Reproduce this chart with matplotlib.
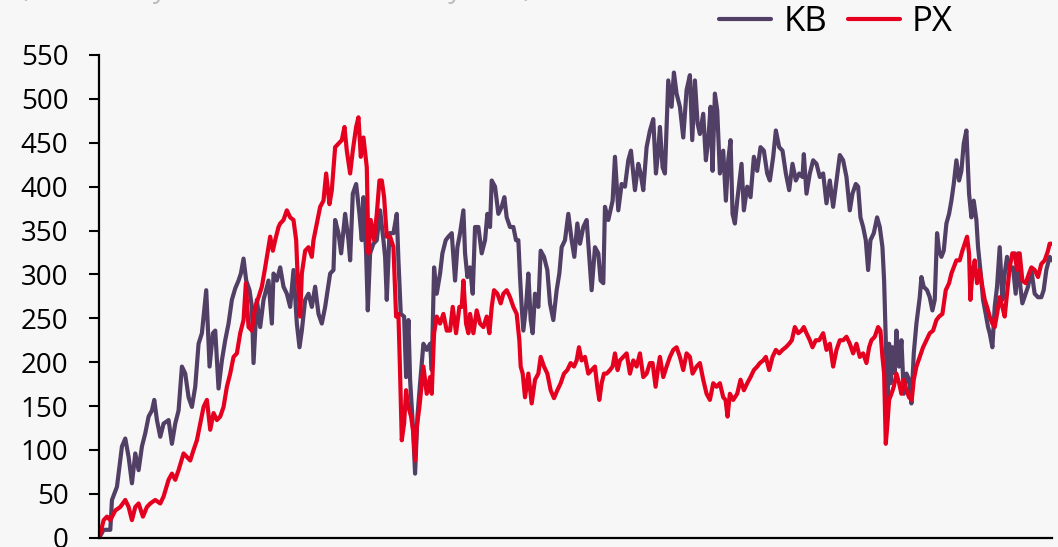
import matplotlib
matplotlib.use("Agg")
import matplotlib.pyplot as plt

plt.rcParams["font.family"] = ["Open Sans", "DejaVu Sans"]

# Cumulative change (%) per series, sampled by day since the start date
kb_days = [
    0, 13, 33, 38, 53, 68, 78, 88, 98, 108,
    118, 128, 138, 148, 158, 165, 173, 183, 193, 208,
    218, 228, 238, 248, 258, 268, 278, 288, 298, 308,
    321, 331, 341, 348, 358, 368, 378, 388, 398, 408,
    418, 425, 433, 441, 451, 458, 463, 473, 483, 493,
    508, 518, 523, 533, 543, 553, 563, 573, 583, 593,
    601, 608, 618, 628, 638, 648, 658, 668, 678, 693,
    703, 708, 718, 726, 738, 748, 753, 761, 771, 781,
    788, 793, 801, 806, 813, 823, 833, 843, 853, 858,
    863, 871, 883, 893, 898, 905, 915, 921, 928, 933,
    941, 948, 955, 963, 973, 983, 993, 998, 1005, 1013,
    1023, 1030, 1040, 1048, 1058, 1068, 1075, 1083, 1093, 1098,
    1105, 1113, 1121, 1128, 1138, 1148, 1158, 1165, 1173, 1178,
    1188, 1198, 1208, 1216, 1223, 1233, 1243, 1251, 1258, 1263,
    1268, 1273, 1281, 1288, 1295, 1301, 1308, 1318, 1325, 1335,
    1345, 1353, 1363, 1373, 1381, 1388, 1398, 1408, 1418, 1426,
    1435, 1443, 1453, 1463, 1471, 1478, 1488, 1498, 1505, 1513,
    1518, 1528, 1541, 1548, 1558, 1568, 1578, 1588, 1596, 1608,
    1618, 1625, 1633, 1643, 1653, 1663, 1671, 1678, 1683, 1691,
    1698, 1708, 1718, 1725, 1733, 1743, 1753, 1763, 1773, 1780,
    1788, 1796, 1803, 1813, 1821, 1828, 1835, 1841, 1848, 1855,
    1863, 1873, 1881, 1888, 1895, 1901, 1908, 1915, 1928, 1935,
    1945, 1955, 1965, 1975, 1985, 1995, 2005, 2013, 2023, 2031,
    2041, 2051, 2061, 2071, 2081, 2091, 2101, 2111, 2115, 2123,
    2133, 2143, 2153, 2163, 2173, 2183, 2193, 2203, 2213, 2223,
    2233, 2243, 2253, 2261, 2271, 2278, 2285, 2293, 2301, 2308,
    2315, 2325, 2335, 2343, 2351, 2356, 2361, 2366, 2371, 2375,
    2381, 2388, 2393, 2401, 2408, 2415, 2423, 2431, 2438, 2445,
    2453, 2463, 2468, 2475, 2485, 2493, 2501, 2508, 2515, 2521,
    2528, 2535, 2543, 2551, 2558, 2565, 2573, 2581, 2588, 2595,
    2603, 2611, 2618, 2625, 2633, 2638, 2645, 2653, 2661, 2668,
    2673, 2681, 2688, 2695, 2703, 2711, 2718, 2725, 2733, 2743,
    2751, 2758, 2765, 2771, 2781, 2788, 2798, 2808, 2818, 2828,
    2835, 2843, 2853, 2860,
]
kb_values = [
    0, 9, 9, 43, 58, 104, 113, 92, 62, 96,
    77, 104, 119, 138, 145, 157, 134, 115, 130, 134,
    107, 130, 145, 195, 187, 160, 149, 172, 221, 233,
    282, 195, 233, 236, 170, 202, 225, 244, 271, 284,
    293, 301, 318, 293, 282, 263, 199, 271, 240, 271,
    293, 244, 301, 293, 308, 286, 278, 263, 305, 244,
    217, 236, 271, 278, 263, 286, 255, 244, 263, 301,
    305, 362, 347, 324, 369, 339, 316, 392, 403, 369,
    339, 388, 324, 259, 324, 335, 339, 373, 339, 320,
    271, 347, 347, 369, 316, 255, 252, 183, 248, 180,
    130, 73, 138, 176, 221, 214, 221, 191, 308, 278,
    301, 324, 339, 343, 347, 293, 331, 347, 373, 324,
    297, 308, 278, 354, 354, 324, 339, 369, 354, 407,
    400, 369, 377, 388, 365, 354, 354, 339, 339, 297,
    263, 236, 263, 301, 248, 233, 278, 263, 327, 320,
    305, 267, 248, 282, 301, 331, 339, 369, 339, 320,
    358, 335, 354, 362, 320, 282, 331, 324, 293, 290,
    377, 362, 384, 434, 373, 403, 400, 430, 441, 396,
    426, 415, 396, 445, 464, 477, 415, 441, 468, 422,
    415, 521, 491, 530, 506, 491, 456, 510, 527, 453,
    521, 472, 460, 483, 430, 453, 491, 418, 506, 487,
    415, 441, 384, 430, 453, 369, 358, 384, 426, 373,
    400, 388, 434, 418, 445, 441, 415, 407, 434, 464,
    445, 441, 415, 396, 426, 407, 415, 411, 437, 392,
    415, 430, 426, 411, 415, 381, 407, 377, 407, 436,
    430, 411, 373, 392, 403, 400, 365, 354, 339, 305,
    339, 347, 365, 354, 331, 293, 225, 149, 221, 176,
    217, 187, 236, 195, 225, 164, 187, 180, 153, 210,
    244, 274, 297, 286, 282, 274, 259, 271, 347, 327,
    320, 327, 358, 369, 384, 403, 430, 407, 418, 449,
    464, 392, 365, 384, 362, 331, 305, 271, 255, 240,
    233, 217, 263, 286, 331, 271, 301, 320, 305, 308,
    278, 324, 286, 267, 278, 286, 305, 278, 274, 274,
    282, 305, 320, 316,
]

px_days = [
    0, 13, 23, 33, 48, 63, 78, 88, 98, 108,
    118, 131, 143, 153, 168, 183, 193, 208, 218, 228,
    238, 253, 263, 273, 283, 293, 303, 313, 323, 333,
    343, 353, 363, 373, 383, 393, 403, 413, 423, 433,
    440, 448, 458, 468, 478, 488, 498, 506, 513, 521,
    528, 538, 543, 553, 563, 573, 583, 591, 595, 603,
    608, 618, 628, 638, 643, 653, 663, 673, 681, 691,
    698, 708, 718, 728, 736, 743, 753, 761, 771, 778,
    785, 793, 803, 808, 815, 825, 833, 841, 848, 855,
    863, 873, 883, 891, 898, 903, 908, 915, 921, 928,
    936, 943, 948, 953, 961, 968, 973, 983, 993, 998,
    1005, 1013, 1023, 1033, 1043, 1053, 1061, 1071, 1081, 1088,
    1093, 1101, 1108, 1113, 1123, 1133, 1143, 1153, 1163, 1171,
    1178, 1185, 1195, 1205, 1213, 1223, 1233, 1243, 1253, 1261,
    1265, 1271, 1278, 1288, 1298, 1308, 1318, 1325, 1335, 1345,
    1355, 1365, 1375, 1385, 1395, 1405, 1415, 1425, 1433, 1440,
    1448, 1458, 1468, 1478, 1488, 1495, 1501, 1508, 1515, 1523,
    1533, 1541, 1548, 1556, 1563, 1573, 1583, 1593, 1603, 1613,
    1623, 1633, 1643, 1653, 1661, 1670, 1678, 1683, 1693, 1703,
    1713, 1723, 1733, 1743, 1753, 1763, 1773, 1781, 1793, 1803,
    1813, 1823, 1833, 1843, 1853, 1863, 1873, 1880, 1886, 1893,
    1903, 1915, 1925, 1935, 1945, 1955, 1965, 1975, 1983, 1993,
    2001, 2011, 2021, 2031, 2041, 2051, 2061, 2071, 2079, 2088,
    2098, 2108, 2115, 2123, 2133, 2141, 2151, 2161, 2173, 2183,
    2193, 2203, 2213, 2223, 2233, 2243, 2253, 2263, 2273, 2283,
    2293, 2303, 2311, 2318, 2328, 2338, 2345, 2351, 2356, 2361,
    2366, 2371, 2378, 2385, 2393, 2401, 2408, 2415, 2423, 2431,
    2439, 2445, 2453, 2463, 2473, 2483, 2493, 2503, 2513, 2521,
    2531, 2541, 2551, 2558, 2565, 2573, 2583, 2591, 2598, 2605,
    2611, 2615, 2621, 2628, 2635, 2643, 2651, 2658, 2665, 2673,
    2681, 2688, 2695, 2703, 2711, 2718, 2725, 2733, 2741, 2748,
    2755, 2763, 2771, 2781, 2791, 2798, 2808, 2818, 2828, 2838,
    2848, 2853, 2860,
]
px_values = [
    0, 20, 24, 20, 31, 35, 43, 35, 20, 35,
    39, 24, 35, 39, 43, 39, 47, 66, 73, 66,
    77, 96, 92, 88, 100, 111, 130, 149, 157, 123,
    142, 134, 138, 149, 172, 187, 206, 210, 233, 248,
    290, 240, 236, 263, 274, 286, 308, 327, 343, 327,
    339, 354, 358, 362, 373, 365, 362, 339, 301, 252,
    301, 327, 331, 320, 339, 358, 377, 384, 415, 380,
    396, 445, 449, 453, 468, 441, 415, 441, 468, 479,
    434, 456, 422, 324, 362, 339, 369, 407, 407, 388,
    343, 343, 331, 252, 255, 187, 111, 130, 168, 149,
    138, 119, 88, 126, 149, 176, 195, 164, 183, 164,
    233, 252, 244, 255, 236, 236, 263, 233, 263, 263,
    293, 244, 233, 255, 233, 259, 244, 240, 252, 233,
    263, 282, 278, 267, 278, 282, 274, 263, 255, 225,
    195, 187, 160, 187, 153, 180, 187, 206, 195, 187,
    168, 159, 168, 176, 187, 191, 199, 195, 202, 217,
    202, 206, 187, 191, 195, 172, 157, 176, 187, 187,
    191, 195, 210, 191, 202, 206, 210, 187, 202, 195,
    210, 183, 187, 199, 199, 172, 195, 206, 183, 195,
    206, 214, 217, 206, 191, 210, 206, 187, 195, 199,
    180, 164, 157, 176, 172, 176, 160, 157, 138, 164,
    157, 164, 180, 168, 176, 183, 191, 195, 199, 202,
    206, 191, 206, 214, 210, 214, 217, 221, 225, 240,
    233, 236, 240, 233, 225, 217, 225, 225, 233, 214,
    221, 195, 214, 225, 225, 229, 221, 210, 221, 206,
    210, 199, 217, 225, 229, 240, 236, 206, 187, 107,
    130, 157, 164, 172, 187, 176, 164, 180, 168, 160,
    157, 180, 195, 206, 217, 225, 233, 236, 248, 252,
    255, 282, 290, 301, 308, 316, 316, 327, 335, 343,
    324, 271, 301, 316, 290, 305, 286, 271, 263, 252,
    244, 240, 255, 274, 263, 252, 278, 308, 324, 324,
    305, 324, 293, 290, 301, 308, 305, 297, 312, 316,
    327, 335, 335,
]

series_names = ["KB", "PX"]
series_colors = ["#523f66", "#e6001f"]
y_ticks = list(range(0, 551, 50))
subtitle = "(Since early 2019 as of the last day in %)"

W, H = 1058, 547
fig = plt.figure(figsize=(W / 100, H / 100), dpi=100, facecolor="#f7f7f7")
ax = fig.add_axes([99.3 / W, 9.3 / H, (1052 - 99.3) / W, (537.7 - 55) / H])
ax.set_facecolor("#f7f7f7")

lines = []
for days, vals, name, col in [
    (kb_days, kb_values, series_names[0], series_colors[0]),
    (px_days, px_values, series_names[1], series_colors[1]),
]:
    ln, = ax.plot(days, vals, color=col, lw=3.0, label=name,
                  solid_joinstyle="round", solid_capstyle="round")
    lines.append(ln)

ax.set_xlim(0, kb_days[-1])
ax.set_ylim(0, 550)
ax.set_yticks(y_ticks)
ax.set_xticks([])
for side in ("top", "right"):
    ax.spines[side].set_visible(False)
for side in ("left", "bottom"):
    ax.spines[side].set_linewidth(1.6)
    ax.spines[side].set_color("black")
ax.tick_params(axis="y", direction="out", length=7.2, width=1.5, pad=15,
               labelsize=20, colors="black")

fig.legend(lines, series_names, loc="center right",
           bbox_to_anchor=(953 / W, 1 - 22 / H), bbox_transform=fig.transFigure,
           ncol=2, frameon=False, fontsize=25, handlelength=1.5,
           handletextpad=0.35, columnspacing=0.6, borderpad=0, borderaxespad=0)

fig.text(20 / W, 1 + 3.5 / H, subtitle, color="#bdbdbd", fontsize=20,
         ha="left", va="baseline")

fig.savefig("out.png", dpi=100, facecolor=fig.get_facecolor())
